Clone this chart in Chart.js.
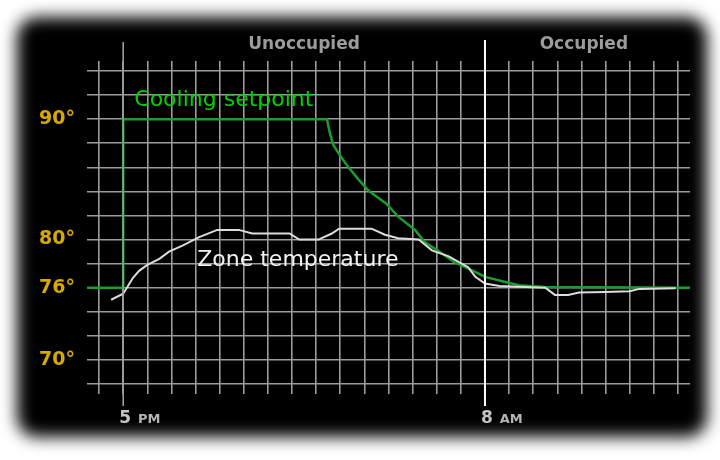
<!DOCTYPE html>
<html>
<head>
<meta charset="utf-8">
<script src="https://cdn.jsdelivr.net/npm/chart.js@4.4.1/dist/chart.umd.min.js"></script>
<style>
  html, body { margin: 0; background: #fff; }
  canvas { display: block; }
</style>
</head>
<body>
<canvas id="tempChart" width="720" height="460"></canvas>
<script>
// hours are counted from 5 PM (0), so 8 AM is 15
let setpointHours = [-1.5, 0, 0, 8.45, 8.55, 8.7, 8.95, 9.3, 9.75, 10.2, 10.9, 11.4, 12.1, 12.5, 13.1, 13.75, 14.3, 15.0, 15.8, 16.4, 17.5, 23.5];
let setpointTemps = [76, 76, 90, 90, 89.0, 87.9, 87.1, 86.1, 85.0, 84.0, 83.0, 81.9, 80.8, 79.8, 79.0, 78.1, 77.6, 76.9, 76.5, 76.2, 76.05, 76.0];

let zoneHours = [-0.5, 0, 0.4, 0.66, 1.0, 1.5, 1.9, 2.46, 3.15, 3.9, 4.8, 5.35, 6.9, 7.3, 8.1, 8.65, 8.95, 10.3, 10.85, 11.4, 12.25, 12.8, 13.5, 14.3, 14.6, 15.0, 15.6, 17.5, 17.9, 18.45, 18.9, 20.0, 21.0, 21.4, 22.9];
let zoneTemps = [75.0, 75.5, 76.8, 77.4, 77.9, 78.4, 79.0, 79.5, 80.2, 80.8, 80.8, 80.5, 80.5, 80.0, 80.0, 80.5, 80.9, 80.9, 80.4, 80.1, 80.0, 79.1, 78.6, 77.7, 76.9, 76.35, 76.15, 76.0, 75.4, 75.4, 75.6, 75.65, 75.7, 75.9, 75.95];

// grid and labels
let gridHours = [-1, 0, 1, 2, 3, 4, 5, 6, 7, 8, 9, 10, 11, 12, 13, 14, 15, 16, 17, 18, 19, 20, 21, 22, 23];
let gridTemps = [68, 70, 72, 74, 76, 78, 80, 82, 84, 86, 88, 90, 92, 94];
let yLabelTemps = [70, 76, 80, 90];
let xLabelHours = [0, 15];
let xLabelNums = ['5', '8'];
let xLabelSuffix = ['PM', 'AM'];
let periodNames = ['Unoccupied', 'Occupied'];
let periodCenters = [7.5, 19.1];
let seriesNames = ['Zone temperature', 'Cooling setpoint'];
let seriesLabelAt = [[3.07, 78.3], [0.46, 91.55]];

let gridColor = 'rgb(155,155,155)';
let colorSetpoint = '#1c9c2c';
let colorZone = '#dcdcdc';

// black panel, period names, hour labels and the 8 AM marker
const decor = {
  id: 'decor',
  beforeDraw(chart) {
    const ctx = chart.ctx;
    const dpr = chart.currentDevicePixelRatio || 1;
    ctx.save();
    ctx.fillStyle = '#fff';
    ctx.fillRect(0, 0, chart.width, chart.height);
    // only the shadow of an off-screen box lands on the canvas
    ctx.shadowColor = '#000';
    ctx.shadowBlur = 16 * dpr;
    ctx.shadowOffsetX = 3000 * dpr;
    ctx.fillStyle = '#000';
    ctx.beginPath();
    ctx.roundRect(17 - 3000, 17, 690, 420, 20);
    ctx.fill();
    ctx.restore();
  },
  afterDatasetsDraw(chart) {
    const ctx = chart.ctx;
    const x = chart.scales.x;
    const area = chart.chartArea;
    ctx.save();
    // 5 PM line is longer than the others
    let px = x.getPixelForValue(xLabelHours[0]);
    ctx.strokeStyle = gridColor;
    ctx.lineWidth = 1.6;
    ctx.beginPath();
    ctx.moveTo(px, area.top - 19);
    ctx.lineTo(px, area.bottom + 12);
    ctx.stroke();
    // 8 AM: start of occupied time
    px = x.getPixelForValue(xLabelHours[1]);
    ctx.strokeStyle = '#fff';
    ctx.lineWidth = 2;
    ctx.beginPath();
    ctx.moveTo(px, area.top - 21);
    ctx.lineTo(px, area.bottom + 12);
    ctx.stroke();
    ctx.restore();
  },
  afterDraw(chart) {
    const ctx = chart.ctx;
    const x = chart.scales.x;
    const y = chart.scales.y;
    const area = chart.chartArea;
    ctx.save();

    ctx.font = 'bold 17px "DejaVu Sans"';
    ctx.fillStyle = '#9c9c9c';
    ctx.textAlign = 'center';
    ctx.textBaseline = 'middle';
    periodNames.forEach((name, i) => {
      ctx.fillText(name, x.getPixelForValue(periodCenters[i]), area.top - 16);
    });

    ctx.textAlign = 'left';
    ctx.font = '22px "DejaVu Sans"';
    ctx.fillStyle = '#f2f2f2';
    ctx.fillText(seriesNames[0], x.getPixelForValue(seriesLabelAt[0][0]), y.getPixelForValue(seriesLabelAt[0][1]));
    ctx.fillStyle = '#00d200';
    ctx.fillText(seriesNames[1], x.getPixelForValue(seriesLabelAt[1][0]), y.getPixelForValue(seriesLabelAt[1][1]));

    ctx.textBaseline = 'alphabetic';
    xLabelHours.forEach((h, i) => {
      const px = x.getPixelForValue(h) - 4;
      ctx.font = 'bold 17px "DejaVu Sans"';
      ctx.fillStyle = '#c4c4c4';
      ctx.fillText(xLabelNums[i], px, area.bottom + 29);
      const w = ctx.measureText(xLabelNums[i]).width;
      ctx.font = 'bold 13px "DejaVu Sans"';
      ctx.fillStyle = '#b4b4b4';
      ctx.fillText(xLabelSuffix[i], px + w + 7, area.bottom + 29);
    });
    ctx.restore();
  }
};

let toPoints = (xs, ys) => xs.map((h, i) => ({ x: h, y: ys[i] }));

new Chart(document.getElementById('tempChart'), {
  type: 'line',
  plugins: [decor],
  data: {
    datasets: [
      {
        label: seriesNames[0],
        data: toPoints(zoneHours, zoneTemps),
        borderColor: colorZone,
        borderWidth: 2,
        pointRadius: 0,
        tension: 0,
      },
      {
        label: seriesNames[1],
        data: toPoints(setpointHours, setpointTemps),
        borderColor: colorSetpoint,
        borderWidth: 2.5,
        pointRadius: 0,
        tension: 0,
      },
    ],
  },
  options: {
    responsive: false,
    animation: false,
    layout: {
      padding: { left: 27, right: 30, top: 61, bottom: 66 },
    },
    plugins: {
      legend: { display: false },
      tooltip: { enabled: false },
    },
    scales: {
      x: {
        type: 'linear',
        min: -1.5,
        max: 23.5,
        afterBuildTicks: (scale) => { scale.ticks = gridHours.map(v => ({ value: v })); },
        afterFit: (scale) => { scale.height = 0; },
        border: { display: false },
        grid: {
          color: gridColor,
          lineWidth: 1.6,
          drawTicks: false,
        },
        ticks: { display: false, autoSkip: false },
      },
      y: {
        type: 'linear',
        min: 67.17,
        max: 94.83,
        afterBuildTicks: (scale) => { scale.ticks = gridTemps.map(v => ({ value: v })); },
        afterFit: (scale) => { scale.width = 60; },
        border: { display: false },
        grid: {
          color: gridColor,
          lineWidth: 1.6,
          drawTicks: false,
        },
        ticks: {
          autoSkip: false,
          padding: 12,
          color: '#d8aa00',
          font: { family: '"DejaVu Sans"', size: 19, weight: 'bold' },
          callback: (v) => yLabelTemps.includes(v) ? v + '°' : '',
        },
      },
    },
  },
});
</script>
</body>
</html>
